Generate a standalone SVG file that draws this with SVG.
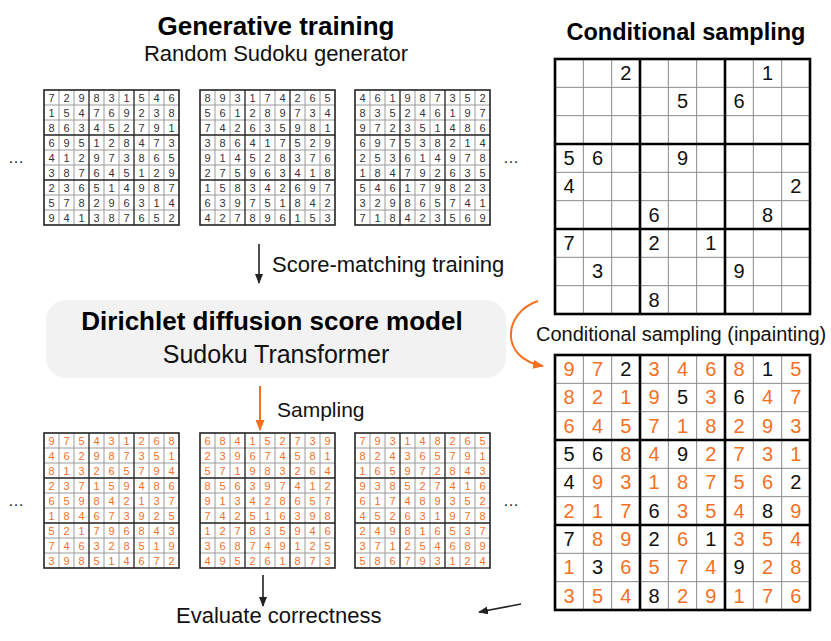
<svg xmlns="http://www.w3.org/2000/svg" xmlns:xlink="http://www.w3.org/1999/xlink" width="831" height="641" viewBox="0 0 831 641">
<style>
text{font-family:"Liberation Sans",Arial,sans-serif}
.t{font-weight:bold;text-anchor:middle;fill:#000}
.l{fill:#111}
.s text{font-size:11px;text-anchor:middle}
.sk{fill:#333}
.so{fill:#f4701f}
.b text{font-size:20px;text-anchor:middle}
.bk{fill:#111}
.b .o{fill:#f4701f}
.thin{stroke:#9a9a9a;stroke-width:1;fill:none}
.thick{stroke:#222;stroke-width:1.3;fill:none}
.bthin{stroke:#8a8a8a;stroke-width:1;fill:none}
.bthick{stroke:#000;stroke-width:2.6;fill:none}
.ak{stroke:#222;stroke-width:1.6;fill:none}
.ao{stroke:#f4701f;stroke-width:2;fill:none}
.dots{font-size:16px;fill:#222;text-anchor:middle}
</style>
<defs>
<marker id="mk" markerWidth="10" markerHeight="8" refX="9" refY="4" orient="auto" markerUnits="userSpaceOnUse"><path d="M0 0L10 4L0 8Z" fill="#222"/></marker>
<marker id="mo" markerWidth="11" markerHeight="9" refX="10" refY="4.5" orient="auto" markerUnits="userSpaceOnUse"><path d="M0 0L11 4.5L0 9Z" fill="#f4701f"/></marker>
<g id="sg">
<path class="thin" d="M15 0V135M30 0V135M60 0V135M75 0V135M105 0V135M120 0V135M0 15H135M0 30H135M0 60H135M0 75H135M0 105H135M0 120H135"/>
<path class="thick" d="M45 0V135M90 0V135M0 45H135M0 90H135"/>
<rect x="0" y="0" width="135" height="135" fill="none" stroke="#222" stroke-width="1.6"/>
</g>
<g id="bg">
<path class="bthin" d="M28.33 0V255M56.67 0V255M113.33 0V255M141.67 0V255M198.33 0V255M226.67 0V255M0 28.33H255M0 56.67H255M0 113.33H255M0 141.67H255M0 198.33H255M0 226.67H255"/>
<path class="bthick" d="M85 0V255M170 0V255M0 85H255M0 170H255"/>
<rect x="0" y="0" width="255" height="255" fill="none" stroke="#000" stroke-width="2.6"/>
</g>
</defs>
<rect width="831" height="641" fill="#fff"/>

<g id="titles">
<text class="t" x="276" y="35" font-size="26">Generative training</text>
<text class="l" x="276" y="61" font-size="22" text-anchor="middle">Random Sudoku generator</text>
<text class="t" x="686" y="40" font-size="23.5">Conditional sampling</text>
</g>

<g id="train-grid-1" class="s" transform="translate(44,90)">
<use xlink:href="#sg"/>
<g class="sk">
<text x="7.5 22.5 37.5 52.5 67.5 82.5 97.5 112.5 127.5" y="11.5">729831546</text>
<text x="7.5 22.5 37.5 52.5 67.5 82.5 97.5 112.5 127.5" y="26.5">154769238</text>
<text x="7.5 22.5 37.5 52.5 67.5 82.5 97.5 112.5 127.5" y="41.5">863452791</text>
<text x="7.5 22.5 37.5 52.5 67.5 82.5 97.5 112.5 127.5" y="56.5">695128473</text>
<text x="7.5 22.5 37.5 52.5 67.5 82.5 97.5 112.5 127.5" y="71.5">412973865</text>
<text x="7.5 22.5 37.5 52.5 67.5 82.5 97.5 112.5 127.5" y="86.5">387645129</text>
<text x="7.5 22.5 37.5 52.5 67.5 82.5 97.5 112.5 127.5" y="101.5">236514987</text>
<text x="7.5 22.5 37.5 52.5 67.5 82.5 97.5 112.5 127.5" y="116.5">578296314</text>
<text x="7.5 22.5 37.5 52.5 67.5 82.5 97.5 112.5 127.5" y="131.5">941387652</text>
</g>
</g>

<g id="train-grid-2" class="s" transform="translate(200,90)">
<use xlink:href="#sg"/>
<g class="sk">
<text x="7.5 22.5 37.5 52.5 67.5 82.5 97.5 112.5 127.5" y="11.5">893174265</text>
<text x="7.5 22.5 37.5 52.5 67.5 82.5 97.5 112.5 127.5" y="26.5">561289734</text>
<text x="7.5 22.5 37.5 52.5 67.5 82.5 97.5 112.5 127.5" y="41.5">742635981</text>
<text x="7.5 22.5 37.5 52.5 67.5 82.5 97.5 112.5 127.5" y="56.5">386417529</text>
<text x="7.5 22.5 37.5 52.5 67.5 82.5 97.5 112.5 127.5" y="71.5">914528376</text>
<text x="7.5 22.5 37.5 52.5 67.5 82.5 97.5 112.5 127.5" y="86.5">275963418</text>
<text x="7.5 22.5 37.5 52.5 67.5 82.5 97.5 112.5 127.5" y="101.5">158342697</text>
<text x="7.5 22.5 37.5 52.5 67.5 82.5 97.5 112.5 127.5" y="116.5">639751842</text>
<text x="7.5 22.5 37.5 52.5 67.5 82.5 97.5 112.5 127.5" y="131.5">427896153</text>
</g>
</g>

<g id="train-grid-3" class="s" transform="translate(355,90)">
<use xlink:href="#sg"/>
<g class="sk">
<text x="7.5 22.5 37.5 52.5 67.5 82.5 97.5 112.5 127.5" y="11.5">461987352</text>
<text x="7.5 22.5 37.5 52.5 67.5 82.5 97.5 112.5 127.5" y="26.5">835246197</text>
<text x="7.5 22.5 37.5 52.5 67.5 82.5 97.5 112.5 127.5" y="41.5">972351486</text>
<text x="7.5 22.5 37.5 52.5 67.5 82.5 97.5 112.5 127.5" y="56.5">697538214</text>
<text x="7.5 22.5 37.5 52.5 67.5 82.5 97.5 112.5 127.5" y="71.5">253614978</text>
<text x="7.5 22.5 37.5 52.5 67.5 82.5 97.5 112.5 127.5" y="86.5">184792635</text>
<text x="7.5 22.5 37.5 52.5 67.5 82.5 97.5 112.5 127.5" y="101.5">546179823</text>
<text x="7.5 22.5 37.5 52.5 67.5 82.5 97.5 112.5 127.5" y="116.5">329865741</text>
<text x="7.5 22.5 37.5 52.5 67.5 82.5 97.5 112.5 127.5" y="131.5">718423569</text>
</g>
</g>

<g id="sample-grid-1" class="s" transform="translate(44,433)">
<use xlink:href="#sg"/>
<g class="so">
<text x="7.5 22.5 37.5 52.5 67.5 82.5 97.5 112.5 127.5" y="11.5">975431268</text>
<text x="7.5 22.5 37.5 52.5 67.5 82.5 97.5 112.5 127.5" y="26.5">462987351</text>
<text x="7.5 22.5 37.5 52.5 67.5 82.5 97.5 112.5 127.5" y="41.5">813265794</text>
<text x="7.5 22.5 37.5 52.5 67.5 82.5 97.5 112.5 127.5" y="56.5">237159486</text>
<text x="7.5 22.5 37.5 52.5 67.5 82.5 97.5 112.5 127.5" y="71.5">659842137</text>
<text x="7.5 22.5 37.5 52.5 67.5 82.5 97.5 112.5 127.5" y="86.5">184673925</text>
<text x="7.5 22.5 37.5 52.5 67.5 82.5 97.5 112.5 127.5" y="101.5">521796843</text>
<text x="7.5 22.5 37.5 52.5 67.5 82.5 97.5 112.5 127.5" y="116.5">746328519</text>
<text x="7.5 22.5 37.5 52.5 67.5 82.5 97.5 112.5 127.5" y="131.5">398514672</text>
</g>
</g>

<g id="sample-grid-2" class="s" transform="translate(200,433)">
<use xlink:href="#sg"/>
<g class="so">
<text x="7.5 22.5 37.5 52.5 67.5 82.5 97.5 112.5 127.5" y="11.5">684152739</text>
<text x="7.5 22.5 37.5 52.5 67.5 82.5 97.5 112.5 127.5" y="26.5">239674581</text>
<text x="7.5 22.5 37.5 52.5 67.5 82.5 97.5 112.5 127.5" y="41.5">571983264</text>
<text x="7.5 22.5 37.5 52.5 67.5 82.5 97.5 112.5 127.5" y="56.5">856397412</text>
<text x="7.5 22.5 37.5 52.5 67.5 82.5 97.5 112.5 127.5" y="71.5">913428657</text>
<text x="7.5 22.5 37.5 52.5 67.5 82.5 97.5 112.5 127.5" y="86.5">742516398</text>
<text x="7.5 22.5 37.5 52.5 67.5 82.5 97.5 112.5 127.5" y="101.5">127835946</text>
<text x="7.5 22.5 37.5 52.5 67.5 82.5 97.5 112.5 127.5" y="116.5">368749125</text>
<text x="7.5 22.5 37.5 52.5 67.5 82.5 97.5 112.5 127.5" y="131.5">495261873</text>
</g>
</g>

<g id="sample-grid-3" class="s" transform="translate(355,433)">
<use xlink:href="#sg"/>
<g class="so">
<text x="7.5 22.5 37.5 52.5 67.5 82.5 97.5 112.5 127.5" y="11.5">793148265</text>
<text x="7.5 22.5 37.5 52.5 67.5 82.5 97.5 112.5 127.5" y="26.5">824365791</text>
<text x="7.5 22.5 37.5 52.5 67.5 82.5 97.5 112.5 127.5" y="41.5">165972843</text>
<text x="7.5 22.5 37.5 52.5 67.5 82.5 97.5 112.5 127.5" y="56.5">938527416</text>
<text x="7.5 22.5 37.5 52.5 67.5 82.5 97.5 112.5 127.5" y="71.5">617489352</text>
<text x="7.5 22.5 37.5 52.5 67.5 82.5 97.5 112.5 127.5" y="86.5">452631978</text>
<text x="7.5 22.5 37.5 52.5 67.5 82.5 97.5 112.5 127.5" y="101.5">249816537</text>
<text x="7.5 22.5 37.5 52.5 67.5 82.5 97.5 112.5 127.5" y="116.5">371254689</text>
<text x="7.5 22.5 37.5 52.5 67.5 82.5 97.5 112.5 127.5" y="131.5">586793124</text>
</g>
</g>

<g id="ellipses">
<text class="dots" x="16" y="163">…</text>
<text class="dots" x="511" y="163">…</text>
<text class="dots" x="16" y="506">…</text>
<text class="dots" x="511" y="506">…</text>
</g>

<g id="model">
<rect x="46" y="300" width="460" height="78" rx="20" ry="20" fill="#f2f2f2"/>
<text class="t" x="272" y="330" font-size="26">Dirichlet diffusion score model</text>
<text class="l" x="276" y="363" font-size="25" text-anchor="middle">Sudoku Transformer</text>
</g>

<g id="puzzle" class="b" transform="translate(555,59)">
<use xlink:href="#bg"/>
<g class="bk">
<text x="70.83" y="21">2</text><text x="212.5" y="21">1</text>
<text x="127.5" y="49.33">5</text><text x="184.17" y="49.33">6</text>
<text x="14.17" y="106">5</text><text x="42.5" y="106">6</text><text x="127.5" y="106">9</text>
<text x="14.17" y="134.33">4</text><text x="240.83" y="134.33">2</text>
<text x="99.17" y="162.67">6</text><text x="212.5" y="162.67">8</text>
<text x="14.17" y="191">7</text><text x="99.17" y="191">2</text><text x="155.83" y="191">1</text>
<text x="42.5" y="219.33">3</text><text x="184.17" y="219.33">9</text>
<text x="99.17" y="247.67">8</text>
</g>
</g>

<g id="solution" class="b" transform="translate(555,355)">
<use xlink:href="#bg"/>
<g class="bk">
<g><text class="o" x="14.17" y="21">9</text><text class="o" x="42.5" y="21">7</text><text x="70.83" y="21">2</text><text class="o" x="99.17" y="21">3</text><text class="o" x="127.5" y="21">4</text><text class="o" x="155.83" y="21">6</text><text class="o" x="184.17" y="21">8</text><text x="212.5" y="21">1</text><text class="o" x="240.83" y="21">5</text></g>
<g><text class="o" x="14.17" y="49.33">8</text><text class="o" x="42.5" y="49.33">2</text><text class="o" x="70.83" y="49.33">1</text><text class="o" x="99.17" y="49.33">9</text><text x="127.5" y="49.33">5</text><text class="o" x="155.83" y="49.33">3</text><text x="184.17" y="49.33">6</text><text class="o" x="212.5" y="49.33">4</text><text class="o" x="240.83" y="49.33">7</text></g>
<g><text class="o" x="14.17" y="77.67">6</text><text class="o" x="42.5" y="77.67">4</text><text class="o" x="70.83" y="77.67">5</text><text class="o" x="99.17" y="77.67">7</text><text class="o" x="127.5" y="77.67">1</text><text class="o" x="155.83" y="77.67">8</text><text class="o" x="184.17" y="77.67">2</text><text class="o" x="212.5" y="77.67">9</text><text class="o" x="240.83" y="77.67">3</text></g>
<g><text x="14.17" y="106">5</text><text x="42.5" y="106">6</text><text class="o" x="70.83" y="106">8</text><text class="o" x="99.17" y="106">4</text><text x="127.5" y="106">9</text><text class="o" x="155.83" y="106">2</text><text class="o" x="184.17" y="106">7</text><text class="o" x="212.5" y="106">3</text><text class="o" x="240.83" y="106">1</text></g>
<g><text x="14.17" y="134.33">4</text><text class="o" x="42.5" y="134.33">9</text><text class="o" x="70.83" y="134.33">3</text><text class="o" x="99.17" y="134.33">1</text><text class="o" x="127.5" y="134.33">8</text><text class="o" x="155.83" y="134.33">7</text><text class="o" x="184.17" y="134.33">5</text><text class="o" x="212.5" y="134.33">6</text><text x="240.83" y="134.33">2</text></g>
<g><text class="o" x="14.17" y="162.67">2</text><text class="o" x="42.5" y="162.67">1</text><text class="o" x="70.83" y="162.67">7</text><text x="99.17" y="162.67">6</text><text class="o" x="127.5" y="162.67">3</text><text class="o" x="155.83" y="162.67">5</text><text class="o" x="184.17" y="162.67">4</text><text x="212.5" y="162.67">8</text><text class="o" x="240.83" y="162.67">9</text></g>
<g><text x="14.17" y="191">7</text><text class="o" x="42.5" y="191">8</text><text class="o" x="70.83" y="191">9</text><text x="99.17" y="191">2</text><text class="o" x="127.5" y="191">6</text><text x="155.83" y="191">1</text><text class="o" x="184.17" y="191">3</text><text class="o" x="212.5" y="191">5</text><text class="o" x="240.83" y="191">4</text></g>
<g><text class="o" x="14.17" y="219.33">1</text><text x="42.5" y="219.33">3</text><text class="o" x="70.83" y="219.33">6</text><text class="o" x="99.17" y="219.33">5</text><text class="o" x="127.5" y="219.33">7</text><text class="o" x="155.83" y="219.33">4</text><text x="184.17" y="219.33">9</text><text class="o" x="212.5" y="219.33">2</text><text class="o" x="240.83" y="219.33">8</text></g>
<g><text class="o" x="14.17" y="247.67">3</text><text class="o" x="42.5" y="247.67">5</text><text class="o" x="70.83" y="247.67">4</text><text x="99.17" y="247.67">8</text><text class="o" x="127.5" y="247.67">2</text><text class="o" x="155.83" y="247.67">9</text><text class="o" x="184.17" y="247.67">1</text><text class="o" x="212.5" y="247.67">7</text><text class="o" x="240.83" y="247.67">6</text></g>
</g>
</g>

<g id="connectors">
<path class="ak" d="M259 244V283" marker-end="url(#mk)"/>
<path class="ao" d="M260 386V430" marker-end="url(#mo)"/>
<path class="ao" d="M538 301C504 312 498 358 543 366" marker-end="url(#mo)"/>
<path class="ak" d="M263 575V606" marker-end="url(#mk)"/>
<path class="ak" d="M521 604L479 612" marker-end="url(#mk)"/>
</g>

<g id="labels">
<text class="l" x="272" y="272" font-size="22">Score-matching training</text>
<text class="l" x="277" y="417" font-size="21">Sampling</text>
<text class="l" x="536" y="341" font-size="20">Conditional sampling (inpainting)</text>
<text class="l" x="176" y="623" font-size="22">Evaluate correctness</text>
</g>
</svg>
